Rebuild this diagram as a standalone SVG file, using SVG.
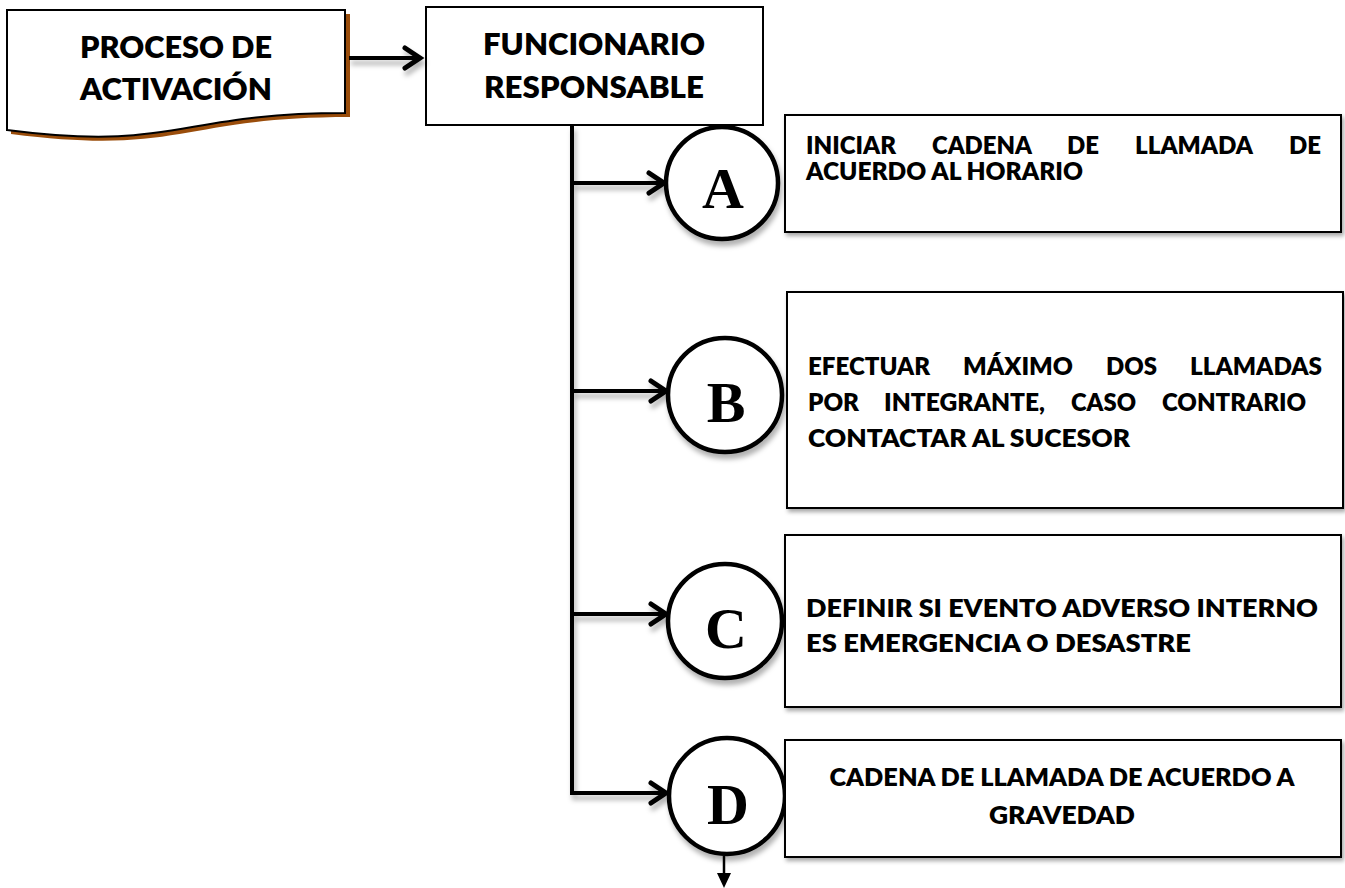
<svg xmlns="http://www.w3.org/2000/svg" width="1345" height="888" viewBox="0 0 1345 888">
<defs>
<filter id="sh" x="-20%" y="-20%" width="140%" height="150%">
<feDropShadow dx="2" dy="5" stdDeviation="2.5" flood-color="#000" flood-opacity="0.3"/>
</filter>
<filter id="bsh" x="-5%" y="-10%" width="110%" height="125%">
<feDropShadow dx="2" dy="3" stdDeviation="2" flood-color="#000" flood-opacity="0.35"/>
</filter>
</defs>
<style>
.t{font-family:Lato,"Liberation Sans",sans-serif;font-weight:800;fill:#000}
.big{font-size:31px}
.sm{font-size:25px}
.ltr{font-family:"Liberation Serif","Times New Roman",serif;font-weight:700;font-size:58px;fill:#000;text-anchor:middle}
.box{fill:#fff;stroke:#000;stroke-width:2}
.circ{fill:#fff;stroke:#000;stroke-width:4.5}
.ln{fill:none;stroke:#000;stroke-width:4}
.hd{fill:none;stroke:#000;stroke-width:5;stroke-linecap:round;stroke-linejoin:miter}
</style>
<rect width="1345" height="888" fill="#fff"/>

<g id="proceso">
<path d="M11,14 H350 V117 C181,117 181,156 11,134 Z" fill="#9a4d0b"/>
<path d="M7,10 H345 V113 C176,113 176,152 7,130 Z" fill="#fff" stroke="#000" stroke-width="2"/>
<text class="t big" x="176" y="58" text-anchor="middle" textLength="192" lengthAdjust="spacingAndGlyphs">PROCESO DE</text>
<text class="t big" x="176" y="100" text-anchor="middle" textLength="192" lengthAdjust="spacingAndGlyphs">ACTIVACIÓN</text>
</g>

<g id="funcionario">
<rect class="box" x="426" y="7" width="337" height="118"/>
<text class="t big" x="594" y="55" text-anchor="middle" textLength="222" lengthAdjust="spacingAndGlyphs">FUNCIONARIO</text>
<text class="t big" x="594" y="98" text-anchor="middle" textLength="220" lengthAdjust="spacingAndGlyphs">RESPONSABLE</text>
</g>

<g id="connectors">
<g filter="url(#sh)">
<line class="ln" x1="349" y1="58" x2="419" y2="58"/>
<polyline class="hd" points="405,48 420,58 405,68"/>
<line class="ln" x1="572" y1="125" x2="572" y2="795"/>
<line class="ln" x1="570" y1="183" x2="663" y2="183"/>
<polyline class="hd" points="649,173 664,183 649,193"/>
<line class="ln" x1="570" y1="391" x2="665" y2="391"/>
<polyline class="hd" points="651,381 666,391 651,401"/>
<line class="ln" x1="570" y1="614" x2="665" y2="614"/>
<polyline class="hd" points="651,604 666,614 651,624"/>
<line class="ln" x1="570" y1="793" x2="665" y2="793"/>
<polyline class="hd" points="651,783 666,793 651,803"/>
</g>
<line x1="724" y1="856" x2="724" y2="875" stroke="#000" stroke-width="2.5"/>
<polygon points="717,873 731,873 724,888" fill="#000"/>
</g>

<g id="circleA"><circle class="circ" cx="722" cy="183" r="56" filter="url(#sh)"/><text class="ltr" x="723" y="208">A</text></g>
<g id="circleB"><circle class="circ" cx="725" cy="395" r="57" filter="url(#sh)"/><text class="ltr" x="726" y="422">B</text></g>
<g id="circleC"><circle class="circ" cx="725" cy="621" r="57" filter="url(#sh)"/><text class="ltr" x="726" y="648">C</text></g>
<g id="circleD"><circle class="circ" cx="727" cy="796" r="58" filter="url(#sh)"/><text class="ltr" x="728" y="824">D</text></g>

<g id="boxA">
<rect class="box" x="785" y="115" width="556" height="117" filter="url(#bsh)"/>
<text class="t sm" x="806" y="154" textLength="90" lengthAdjust="spacingAndGlyphs">INICIAR</text>
<text class="t sm" x="932" y="154" textLength="100" lengthAdjust="spacingAndGlyphs">CADENA</text>
<text class="t sm" x="1067" y="154" textLength="32" lengthAdjust="spacingAndGlyphs">DE</text>
<text class="t sm" x="1135" y="154" textLength="118" lengthAdjust="spacingAndGlyphs">LLAMADA</text>
<text class="t sm" x="1289" y="154" textLength="32" lengthAdjust="spacingAndGlyphs">DE</text>
<text class="t sm" x="806" y="180" textLength="277" lengthAdjust="spacingAndGlyphs">ACUERDO AL HORARIO</text>
</g>

<g id="boxB">
<rect class="box" x="787" y="292" width="556" height="216" filter="url(#bsh)"/>
<text class="t sm" x="808" y="375" textLength="122" lengthAdjust="spacingAndGlyphs">EFECTUAR</text>
<text class="t sm" x="963" y="375" textLength="110" lengthAdjust="spacingAndGlyphs">MÁXIMO</text>
<text class="t sm" x="1106" y="375" textLength="51" lengthAdjust="spacingAndGlyphs">DOS</text>
<text class="t sm" x="1190" y="375" textLength="132" lengthAdjust="spacingAndGlyphs">LLAMADAS</text>
<text class="t sm" x="808" y="411" textLength="51" lengthAdjust="spacingAndGlyphs">POR</text>
<text class="t sm" x="884" y="411" textLength="161" lengthAdjust="spacingAndGlyphs">INTEGRANTE,</text>
<text class="t sm" x="1071" y="411" textLength="65" lengthAdjust="spacingAndGlyphs">CASO</text>
<text class="t sm" x="1162" y="411" textLength="144" lengthAdjust="spacingAndGlyphs">CONTRARIO</text>
<text class="t sm" x="808" y="447" textLength="322" lengthAdjust="spacingAndGlyphs">CONTACTAR AL SUCESOR</text>
</g>

<g id="boxC">
<rect class="box" x="785" y="535" width="556" height="172" filter="url(#bsh)"/>
<text class="t sm" x="806" y="617" textLength="512" lengthAdjust="spacingAndGlyphs">DEFINIR SI EVENTO ADVERSO INTERNO</text>
<text class="t sm" x="806" y="652" textLength="385" lengthAdjust="spacingAndGlyphs">ES EMERGENCIA O DESASTRE</text>
</g>

<g id="boxD">
<rect class="box" x="785" y="740" width="556" height="117" filter="url(#bsh)"/>
<text class="t sm" x="1062" y="786" text-anchor="middle" textLength="465" lengthAdjust="spacingAndGlyphs">CADENA DE LLAMADA DE ACUERDO A</text>
<text class="t sm" x="1062" y="824" text-anchor="middle" textLength="146" lengthAdjust="spacingAndGlyphs">GRAVEDAD</text>
</g>
</svg>
